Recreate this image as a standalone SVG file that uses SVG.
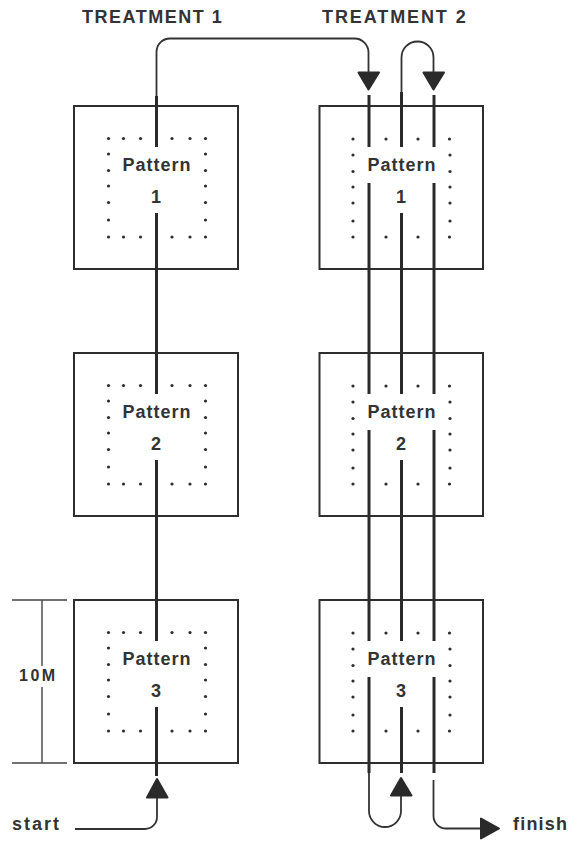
<svg xmlns="http://www.w3.org/2000/svg" xmlns:xlink="http://www.w3.org/1999/xlink" width="573" height="842" viewBox="0 0 573 842">
<style>
.box{fill:none;stroke:#2e2e2e;stroke-width:2}
.thick{stroke:#2a2a2a;stroke-width:3;fill:none}
.thin{stroke:#333;stroke-width:1.8;fill:none}
.arrow{fill:#2a2a2a;stroke:#2a2a2a;stroke-width:2;stroke-linejoin:round}
.dim{stroke:#444;stroke-width:1.4;fill:none}
.dot{fill:#2e2e2e}
text{font-family:"Liberation Sans",Arial,sans-serif;font-weight:bold;fill:#333}
.lbl{font-size:18px;letter-spacing:1px;text-anchor:middle}
.num{font-size:18px;text-anchor:middle}
.head{font-size:18px;letter-spacing:1.5px}
</style>
<defs>
<g id="dotsL" class="dot">
<circle cx="108.5" cy="32.5" r="1.6"/><circle cx="123.5" cy="32.5" r="1.6"/><circle cx="140.5" cy="32.5" r="1.6"/>
<circle cx="172" cy="32.5" r="1.6"/><circle cx="190" cy="32.5" r="1.6"/><circle cx="205.5" cy="32.5" r="1.6"/>
<circle cx="108.5" cy="131" r="1.6"/><circle cx="123.5" cy="131" r="1.6"/><circle cx="140.5" cy="131" r="1.6"/>
<circle cx="172" cy="131" r="1.6"/><circle cx="190" cy="131" r="1.6"/><circle cx="205.5" cy="131" r="1.6"/>
<circle cx="108.5" cy="48" r="1.6"/><circle cx="108.5" cy="64.5" r="1.6"/><circle cx="108.5" cy="80" r="1.6"/><circle cx="108.5" cy="96.5" r="1.6"/><circle cx="108.5" cy="114" r="1.6"/>
<circle cx="205.5" cy="48" r="1.6"/><circle cx="205.5" cy="64.5" r="1.6"/><circle cx="205.5" cy="80" r="1.6"/><circle cx="205.5" cy="96.5" r="1.6"/><circle cx="205.5" cy="114" r="1.6"/>
</g>
<g id="dotsR" class="dot">
<circle cx="353" cy="33" r="1.6"/><circle cx="386" cy="33" r="1.6"/><circle cx="418" cy="33" r="1.6"/><circle cx="449.5" cy="33" r="1.6"/>
<circle cx="353" cy="131" r="1.6"/><circle cx="386" cy="131" r="1.6"/><circle cx="418" cy="131" r="1.6"/><circle cx="449.5" cy="131" r="1.6"/>
<circle cx="353" cy="49" r="1.6"/><circle cx="353" cy="65.5" r="1.6"/><circle cx="353" cy="81" r="1.6"/><circle cx="353" cy="97" r="1.6"/><circle cx="353" cy="115" r="1.6"/>
<circle cx="450" cy="49" r="1.6"/><circle cx="450" cy="65.5" r="1.6"/><circle cx="450" cy="81" r="1.6"/><circle cx="450" cy="97" r="1.6"/><circle cx="450" cy="115" r="1.6"/>
</g>
</defs>
<rect width="573" height="842" fill="#fff"/>

<text id="treatment1" class="head" x="82" y="23">TREATMENT 1</text>
<text id="treatment2" class="head" x="322" y="23" style="letter-spacing:1.9px">TREATMENT 2</text>

<g id="t1-pattern1">
<rect class="box" x="74" y="106" width="164" height="163"/>
<use xlink:href="#dotsL" transform="translate(0,106)"/>
<text class="lbl" x="157" y="171">Pattern</text>
<text class="num" x="156" y="203">1</text>
</g>
<g id="t1-pattern2">
<rect class="box" x="74" y="353" width="164" height="163"/>
<use xlink:href="#dotsL" transform="translate(0,353)"/>
<text class="lbl" x="157" y="418">Pattern</text>
<text class="num" x="156" y="450">2</text>
</g>
<g id="t1-pattern3">
<rect class="box" x="74" y="600" width="164" height="163"/>
<use xlink:href="#dotsL" transform="translate(0,600)"/>
<text class="lbl" x="157" y="665">Pattern</text>
<text class="num" x="156" y="697">3</text>
</g>

<g id="t2-pattern1">
<rect class="box" x="319.5" y="106" width="163.5" height="163"/>
<use xlink:href="#dotsR" transform="translate(0,106)"/>
<text class="lbl" x="402" y="171">Pattern</text>
<text class="num" x="401" y="203">1</text>
</g>
<g id="t2-pattern2">
<rect class="box" x="319.5" y="353" width="163.5" height="163"/>
<use xlink:href="#dotsR" transform="translate(0,353)"/>
<text class="lbl" x="402" y="418">Pattern</text>
<text class="num" x="401" y="450">2</text>
</g>
<g id="t2-pattern3">
<rect class="box" x="319.5" y="600" width="163.5" height="163"/>
<use xlink:href="#dotsR" transform="translate(0,600)"/>
<text class="lbl" x="402" y="665">Pattern</text>
<text class="num" x="401" y="697">3</text>
</g>

<g id="dimension">
<path class="dim" d="M12,600 H67 M12,763 H67 M42,600 V666 M42,687 V763"/>
<text x="19" y="681" style="font-size:16px;letter-spacing:2.5px">10M</text>
</g>

<g id="start-label"><text x="12" y="829.5" style="font-size:18px;letter-spacing:2px">start</text></g>
<g id="finish-label"><text x="513" y="829.5" style="font-size:18px;letter-spacing:1.2px">finish</text></g>

<g id="connectors">
<path class="thick" d="M156.5,96 V147 M156.5,213 V394 M156.5,460 V641 M156.5,707 V776"/>
<path class="thick" d="M369,95 V147 M369,183 V394 M369,430 V641 M369,677 V773"/>
<path class="thick" d="M401.5,92 V147 M401.5,213 V394 M401.5,460 V641 M401.5,707 V773"/>
<path class="thick" d="M434,95 V147 M434,183 V394 M434,430 V641 M434,677 V773"/>
<path class="thin" d="M75,829 H145 A12,12 0 0 0 157,817 V798"/>
<path class="thin" d="M156.5,96 V52 A13.5,13.5 0 0 1 170,38.5 H354.5 A14,14 0 0 1 368.5,52.5 V72"/>
<path class="thin" d="M401.5,92 V57.5 A16,16 0 0 1 433.5,57.5 V72"/>
<path class="thin" d="M369,773 V811 A16,16 0 0 0 401,811 V796"/>
<path class="thin" d="M433.5,780 V816 A12.5,12.5 0 0 0 446,828.5 H482"/>
<path class="arrow" d="M358.5,72.5 H379 L368.5,89.5 Z"/>
<path class="arrow" d="M423.5,72.5 H444 L433.5,89.5 Z"/>
<path class="arrow" d="M147,797.5 H167.5 L157,779 Z"/>
<path class="arrow" d="M391,795.5 H411.5 L401,778 Z"/>
<path class="arrow" d="M481,818.5 V838.5 L499,828.5 Z"/>
</g>
</svg>
